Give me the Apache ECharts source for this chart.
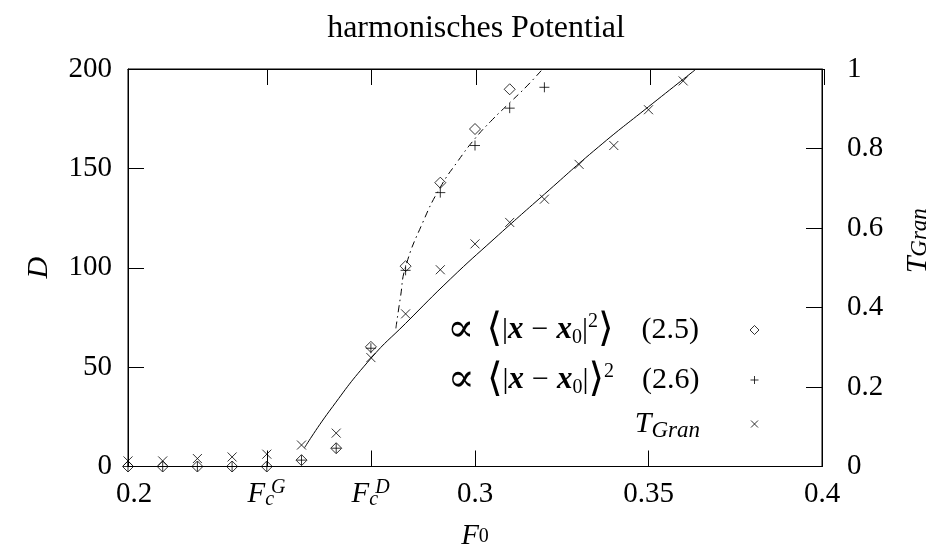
<!DOCTYPE html>
<html><head><meta charset="utf-8">
<script src="https://cdn.jsdelivr.net/npm/echarts@6/dist/echarts.min.js"></script>
<style>html,body{margin:0;padding:0;background:#fff}#c{width:941px;height:556px}</style>
</head><body><div id="c"></div>
<script>
// ---- data ----
const titleText = 'harmonisches Potential';
const fDiamond = [0.20,0.21,0.22,0.23,0.24,0.25,0.26,0.27,0.28,0.29,0.30,0.31];
const dDiamond = [0,0,0,0,0,3.2,9.2,60.2,100.8,142.8,169.8,189.8];
const fPlus = [0.20,0.21,0.22,0.23,0.24,0.25,0.26,0.27,0.28,0.29,0.30,0.31,0.32];
const dPlus = [0,0,0,0,0,3.2,9.2,59.5,98.7,137.8,161.5,180.3,190.8];
const fGran = [0.20,0.21,0.22,0.23,0.24,0.25,0.26,0.27,0.28,0.29,0.30,0.31,0.32,0.33,0.34,0.35,0.36];
const tGran = [0.014,0.014,0.02,0.024,0.031,0.054,0.084,0.274,0.384,0.495,0.56,0.614,0.6725,0.76,0.8075,0.8975,0.97];
const fitDF = [0.2772,0.2785,0.28,0.285,0.29,0.295,0.30,0.305,0.31,0.315,0.3195];
const fitD  = [69.5,85,100.5,123,140.5,153.5,165,174.5,183,191.5,200];
const fitTF = [0.2509,0.258,0.27,0.28,0.293,0.3055,0.32,0.3356,0.35,0.3634];
const fitT  = [0.0475,0.139,0.272,0.36,0.4725,0.5725,0.685,0.804,0.905,0.9975];
const xTickValues = [0.2,0.24,0.27,0.3,0.35,0.4];
const xTickLabels = ['0.2','F','F','0.3','0.35','0.4'];
const xTickSubs   = ['','c','c','','',''];
const xTickSups   = ['','G','D','','',''];

// ---- chart ----
const FONT = "'Liberation Serif','DejaVu Serif',serif";
const zip = (a,b) => a.map((v,i) => [v,b[i]]);
const idxOf = (arr,v) => arr.findIndex(t => Math.abs(t - v) < 1e-9);
const black = '#000';

const richTick = {
  n:  {fontSize:29, lineHeight:30, fontFamily:FONT, color:black},
  n0: {fontSize:29, lineHeight:30, fontFamily:FONT, color:black, padding:[0,0,0,12]},
  it: {fontSize:29, lineHeight:30, fontStyle:'italic', fontFamily:FONT, color:black},
  sub:{fontSize:20, lineHeight:14, fontStyle:'italic', verticalAlign:'bottom', fontFamily:FONT, color:black, padding:[0,12,0,0]},
  sup:{fontSize:20, lineHeight:22, fontStyle:'italic', fontFamily:FONT, color:black, padding:[0,0,0,23]}
};
const richLeg = {
  t:   {fontSize:30, lineHeight:36, fontFamily:FONT, color:black},
  pr:  {fontSize:40, lineHeight:36, fontFamily:FONT, color:black},
  big: {fontSize:40, lineHeight:36, fontFamily:FONT, color:black},
  b:   {fontSize:31, lineHeight:36, fontFamily:FONT, fontWeight:'bold', fontStyle:'italic', color:black},
  it:  {fontSize:30, lineHeight:36, fontFamily:FONT, fontStyle:'italic', color:black},
  sub: {fontSize:20, lineHeight:22, fontFamily:FONT, verticalAlign:'bottom', color:black},
  subit:{fontSize:23, lineHeight:20, fontFamily:FONT, fontStyle:'italic', verticalAlign:'bottom', color:black},
  sup: {fontSize:20, lineHeight:24, fontFamily:FONT, verticalAlign:'top', color:black},
  sp1: {width:12, lineHeight:36},
  sp2: {width:28, lineHeight:36},
  sp3: {width:8, lineHeight:36},
  gap: {width:46, lineHeight:36}
};
const richName2 = {
  it:   {fontSize:30, lineHeight:26, fontFamily:FONT, fontStyle:'italic', color:black},
  subit:{fontSize:23, lineHeight:16, fontFamily:FONT, fontStyle:'italic', verticalAlign:'bottom', color:black}
};
const legendText = {
  eq25: '{pr|∝}{sp1| }{big|⟨}{t||}{b|x}{sp3| }{t|−}{sp3| }{b|x}{sub|0}{t||}{sup|2}{big|⟩}{sp2| }{t|(2.5)}{gap| }',
  eq26: '{pr|∝}{sp1| }{big|⟨}{t||}{b|x}{sp3| }{t|−}{sp3| }{b|x}{sub|0}{t||}{big|⟩}{sup|2}{sp2| }{t|(2.6)}{gap| }',
  tgran:'{it|T}{subit|Gran}{gap| }'
};
const plusPath = 'path://M5,0L5,10M0,5L10,5';
const crossPath = 'path://M0,0L10,10M10,0L0,10';
const hollow = {color:'rgba(0,0,0,0)', borderColor:black, borderWidth:1};

function mkLegend(name, size, top) {
  return {
    data:[name], orient:'vertical', align:'right', padding:0,
    right: 941 - (755 + size/2), top: top,
    itemWidth:size, itemHeight:size, selectedMode:false,
    formatter: n => legendText[n],
    textStyle:{rich:richLeg, color:black, fontFamily:FONT, fontSize:30},
    itemStyle: hollow
  };
}
function axisBase() {
  return {
    type:'value', splitLine:{show:false}, silent:true, show:true,
    axisLine:{show:true, onZero:false, lineStyle:{color:black, width:1}}
  };
}

const option = {
  animation:false,
  backgroundColor:'#fff',
  textStyle:{fontFamily:FONT, color:black},
  title:{text:titleText, left:476, textAlign:'center', top:11, padding:0,
    textStyle:{fontSize:32, fontWeight:'normal', fontFamily:FONT, color:black, lineHeight:36}},
  grid:[
    {left:128, top:69, width:696, height:400, show:true, borderColor:black, borderWidth:1,
     backgroundColor:'rgba(0,0,0,0)'},
    // strip above the plot: its bottom edge is the plot's top edge and carries the mirrored top ticks
    {left:128, top:0, width:696, height:69, show:false}
  ],
  legend:[ mkLegend('eq25',9,310), mkLegend('eq26',8,360), mkLegend('tgran',7,409) ],
  xAxis:[
    Object.assign(axisBase(), {
      position:'bottom', min:0.2, max:0.4,
      axisTick:{show:true, inside:true, length:16, customValues:xTickValues},
      axisLabel:{show:true, margin:13, customValues:xTickValues, rich:richTick,
        formatter: v => { const i = idxOf(xTickValues,v); if (i<0) return '';
          if (xTickSubs[i]) return '{it|'+xTickLabels[i]+'}{sub|'+xTickSubs[i]+'}';
          return (i === 0 ? '{n0|' : '{n|') + xTickLabels[i] + '}'; }},
      name:'{it|F}{sub|0}', nameLocation:'middle', nameGap:60,
      nameTextStyle:{rich:{
        it:{fontSize:29, lineHeight:20, fontStyle:'italic', fontFamily:FONT, color:black},
        sub:{fontSize:20, lineHeight:10, verticalAlign:'bottom', fontFamily:FONT, color:black}}}
    }),
    Object.assign(axisBase(), {
      gridIndex:1, position:'bottom', min:0.2, max:0.4,
      axisTick:{show:true, inside:false, length:16, customValues:xTickValues, lineStyle:{color:black, width:1}},
      axisLabel:{show:true, margin:4, customValues:xTickValues, color:'#fff', fontSize:6, formatter: () => ' '}
    }),
    Object.assign(axisBase(), {
      position:'bottom', min:0.2, max:0.4,
      axisLine:{show:false, onZero:false}, axisTick:{show:false},
      axisLabel:{show:true, margin:10, customValues:[0.24,0.27], rich:richTick,
        formatter: v => { const i = idxOf(xTickValues,v); return (i>=0 && xTickSups[i]) ? '{sup|'+xTickSups[i]+'}' : ''; }}
    })
  ],
  yAxis:[
    Object.assign(axisBase(), {
      position:'left', min:0, max:200, interval:50,
      axisTick:{show:true, inside:true, length:16},
      axisLabel:{show:true, margin:16, fontSize:29, fontFamily:FONT, color:black},
      name:'D', nameLocation:'middle', nameGap:74, nameRotate:90,
      nameTextStyle:{fontSize:30, fontStyle:'italic', fontFamily:FONT, color:black}
    }),
    Object.assign(axisBase(), {
      position:'right', min:0, max:1, interval:0.2,
      axisTick:{show:true, inside:true, length:16},
      axisLabel:{show:true, margin:25, fontSize:29, fontFamily:FONT, color:black},
      name:'{it|T}{subit|Gran}', nameLocation:'middle', nameGap:83, nameRotate:90,
      nameTextStyle:{rich:richName2, padding:[0,0,0,54]}
    }),
    {type:'value', gridIndex:1, show:false, min:0, max:1}
  ],
  series:[
    {name:'fitD', type:'line', xAxisIndex:0, yAxisIndex:0, data:zip(fitDF,fitD),
     showSymbol:false, smooth:true, silent:true,
     lineStyle:{color:black, width:1, type:[7,4,1.5,4]}},
    {name:'fitT', type:'line', xAxisIndex:0, yAxisIndex:1, data:zip(fitTF,fitT),
     showSymbol:false, smooth:true, silent:true,
     lineStyle:{color:black, width:1, type:'solid'}},
    {name:'eq25', type:'scatter', xAxisIndex:0, yAxisIndex:0, data:zip(fDiamond,dDiamond),
     symbol:'diamond', symbolSize:[11,11], itemStyle:hollow, silent:true, clip:false},
    {name:'eq26', type:'scatter', xAxisIndex:0, yAxisIndex:0, data:zip(fPlus,dPlus),
     symbol:plusPath, symbolSize:10, itemStyle:hollow, silent:true, clip:false},
    {name:'tgran', type:'scatter', xAxisIndex:0, yAxisIndex:1, data:zip(fGran,tGran),
     symbol:crossPath, symbolSize:9, itemStyle:hollow, silent:true, clip:false}
  ]
};
echarts.init(document.getElementById('c')).setOption(option);
</script></body></html>
